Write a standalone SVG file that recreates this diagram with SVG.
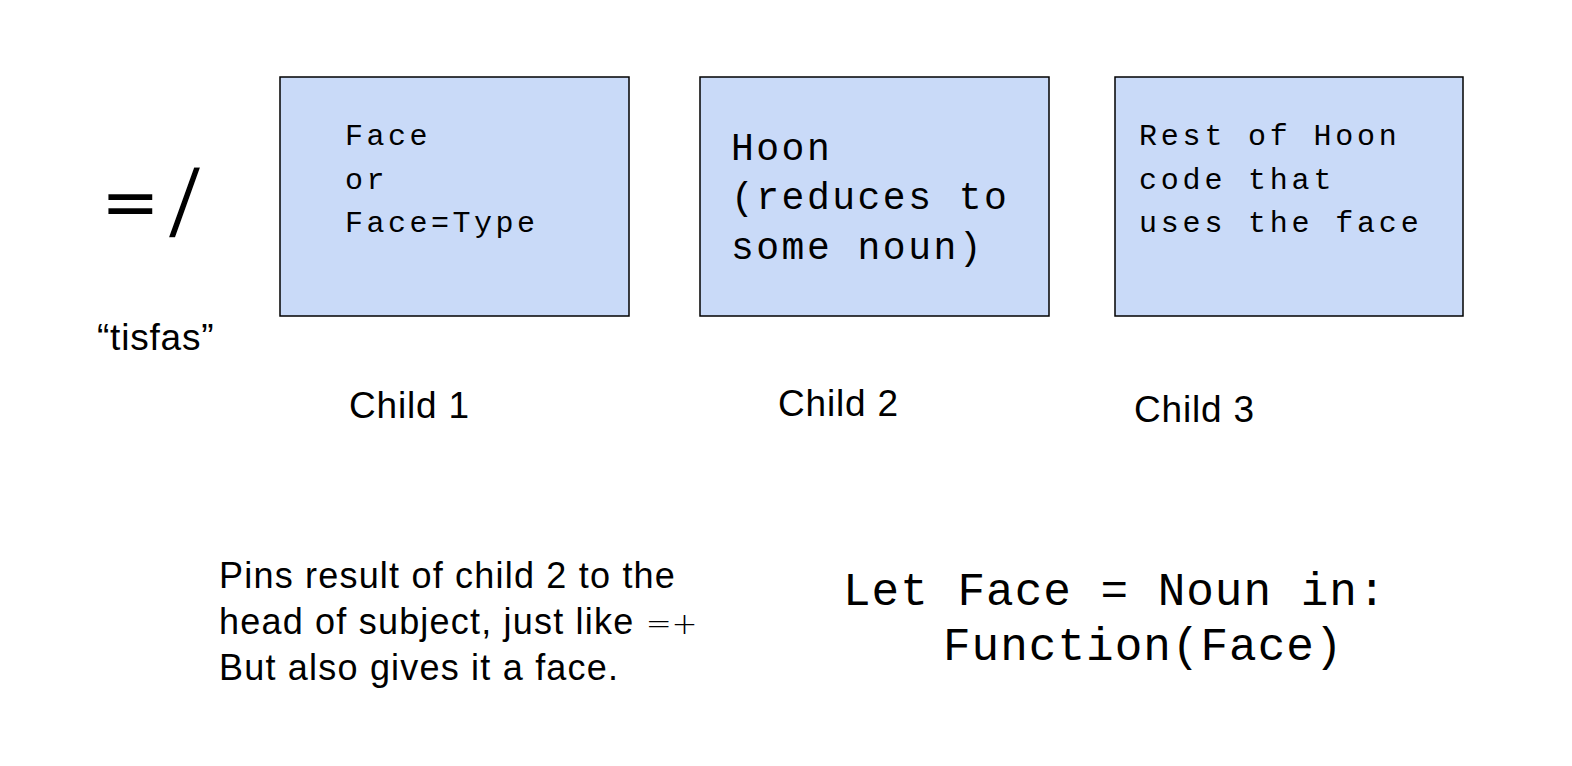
<svg xmlns="http://www.w3.org/2000/svg" width="1572" height="766" viewBox="0 0 1572 766">
<style>
.box{fill:#c9daf8;stroke:#000;stroke-width:1.5}
.mono{font-family:"Liberation Mono","Courier New",monospace;fill:#000}
.sans{font-family:"Liberation Sans",Arial,sans-serif;fill:#000}
.lbl{font-size:37px;letter-spacing:0.8px}
</style>
<rect width="1572" height="766" fill="#fff"/>
<g id="title">
<text x="101" y="226" style="font-family:'DejaVu Sans',sans-serif;font-size:70px" fill="#000">=</text>
<text transform="translate(168,237) skewX(-5)" x="0" y="0" style="font-family:'Liberation Sans',sans-serif;font-size:97px" fill="#000" stroke="#fff" stroke-width="1.6">/</text>
<text class="sans lbl" x="97" y="350">“tisfas”</text>
</g>
<g id="child1">
<rect class="box" x="280" y="77" width="349" height="239"/>
<text class="mono" font-size="30" letter-spacing="3.5"><tspan x="345" y="145">Face</tspan><tspan x="345" y="189">or</tspan><tspan x="345" y="232">Face=Type</tspan></text>
<text class="sans lbl" x="349" y="418">Child 1</text>
</g>
<g id="child2">
<rect class="box" x="700" y="77" width="349" height="239"/>
<text class="mono" font-size="38" letter-spacing="2.5"><tspan x="731" y="160">Hoon</tspan><tspan x="731" y="209">(reduces to</tspan><tspan x="731" y="259">some noun)</tspan></text>
<text class="sans lbl" x="778" y="416">Child 2</text>
</g>
<g id="child3">
<rect class="box" x="1115" y="77" width="348" height="239"/>
<text class="mono" font-size="30" letter-spacing="3.8"><tspan x="1139" y="145">Rest of Hoon</tspan><tspan x="1139" y="189">code that</tspan><tspan x="1139" y="232">uses the face</tspan></text>
<text class="sans lbl" x="1134" y="422">Child 3</text>
</g>
<g id="note">
<text class="sans" font-size="36" letter-spacing="1.2"><tspan x="219" y="588">Pins result of child 2 to the</tspan><tspan x="219" y="634">head of subject, just like <tspan style="font-family:'DejaVu Sans',sans-serif;font-weight:300" font-size="31" letter-spacing="0">=+</tspan></tspan><tspan x="219" y="680">But also gives it a face.</tspan></text>
</g>
<g id="code">
<text class="mono" font-size="46" letter-spacing="1"><tspan x="843" y="605">Let Face = Noun in:</tspan><tspan x="943" y="660">Function(Face)</tspan></text>
</g>
<g id="connectors"></g>
</svg>
